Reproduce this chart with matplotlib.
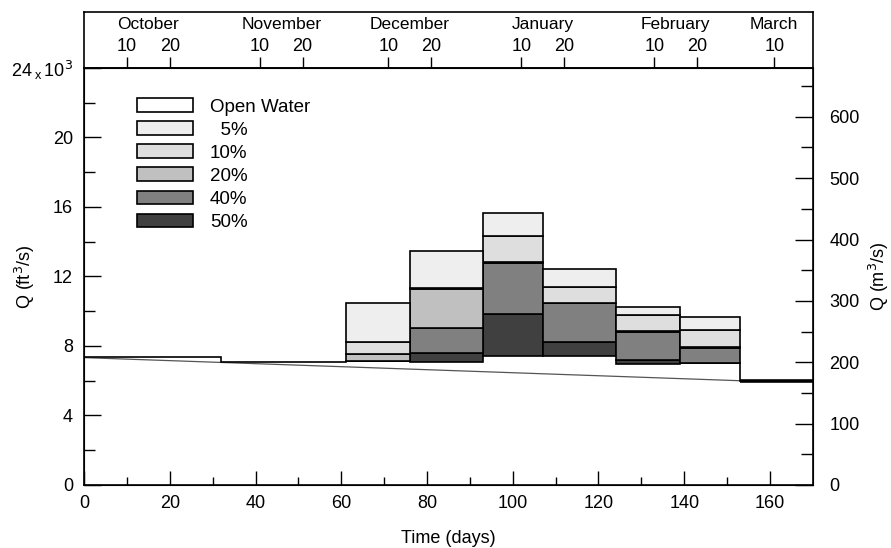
import numpy as np
import matplotlib
matplotlib.use('Agg')
import matplotlib.pyplot as plt
from matplotlib.patches import Patch

plt.rcParams['font.family'] = ['Liberation Sans', 'DejaVu Sans']
plt.rcParams['font.size'] = 13

# open water flow per period (ft3/s)
period_edges = [0, 32, 61, 76, 93, 107, 124, 139, 153, 170]
q_open = [7390, 7080, 7150, 7100, 7430, 7430, 6960, 7000, 6000]

# ice cover periods and flow for each coverage level (tops of stacked bands)
ice_edges = [61, 76, 93, 107, 124, 139, 153]
q50 = [7150, 7580, 9820, 8250, 7190, 7020]
q40 = [7150, 9020, 12800, 10460, 8810, 7880]
q20 = [7540, 11300, 12850, 10500, 8850, 7920]
q10 = [8250, 11350, 14350, 11410, 9770, 8940]
q05 = [10490, 13490, 15670, 12410, 10260, 9690]

# trend line under the open water steps
trend_days = [0, 153]
trend_q = [7330, 6000]

labels = ['Open Water', '  5%', '10%', '20%', '40%', '50%']
colors = ['white', '#eeeeee', '#dedede', '#c0c0c0', '#808080', '#404040']

# month axis on top
month_names = ['October', 'November', 'December', 'January', 'February', 'March']
month_pos = [15, 46, 76, 107, 138, 161]
top_ticks = [10, 20, 41, 51, 71, 81, 102, 112, 133, 143, 161]
top_labels = ['10', '20', '10', '20', '10', '20', '10', '20', '10', '20', '10']

fig = plt.figure(figsize=(8.91, 5.48), dpi=100)
ax = fig.add_axes([0.0943, 0.115, 0.818, 0.761])
head = fig.add_axes([0.0943, 0.876, 0.818, 0.102])

# stacked ice bars
x0 = np.array(ice_edges[:-1])
w = np.diff(ice_edges)
base = np.array(q_open[2:8])
layers = [q50, q40, q20, q10, q05]
layer_cols = colors[5:0:-1]
bottom = base.copy()
for top, c in zip(layers, layer_cols):
    top = np.array(top)
    ax.bar(x0, top - bottom, bottom=bottom, width=w, align='edge',
           color=c, edgecolor='black', linewidth=1.2, zorder=2)
    bottom = top

# open water steps
ax.plot(trend_days, trend_q, color='#555555', lw=0.9, zorder=1)
ax.stairs(q_open[:3], period_edges[:4], baseline=None, color='black', lw=1.2, zorder=1.5)
ax.stairs(q_open[7:], period_edges[7:], baseline=None, color='black', lw=1.2, zorder=1.5)
ax.stairs([q_open[8]], period_edges[8:], baseline=None, color='black', lw=2.6, zorder=3)

ax.set_xlim(0, 170)
ax.set_ylim(0, 24000)
ax.set_xticks(np.arange(0, 170, 20))
ax.set_xticks(np.arange(10, 170, 20), minor=True)
yt = np.arange(0, 24001, 4000)
ax.set_yticks(yt)
ax.set_yticklabels([str(v // 1000) for v in yt[:-1]]
                   + [r'24$\,_{\mathregular{x}}\,$10$^3$'])
ax.set_yticks(np.arange(2000, 24000, 4000), minor=True)
ax.tick_params(axis='x', which='major', direction='in', length=10, width=1, pad=7)
ax.tick_params(axis='x', which='minor', direction='in', length=6, width=1)
ax.tick_params(axis='y', which='major', direction='in', length=12, width=1, pad=8)
ax.tick_params(axis='y', which='minor', direction='in', length=8, width=1)
ax.set_xlabel('Time (days)', labelpad=13)
ax.set_ylabel('Q (ft$^3$/s)')
ax.yaxis.set_label_coords(-0.064, 0.5)
for s in ax.spines.values():
    s.set_linewidth(1.2)

# metric axis
ax2 = ax.twinx()
ax2.set_ylim(0, 24000 * 0.0283168)
ax2.set_yticks(np.arange(0, 601, 100))
ax2.set_yticks(np.arange(50, 680, 100), minor=True)
ax2.tick_params(axis='y', which='major', direction='in', length=13, width=1, pad=12)
ax2.tick_params(axis='y', which='minor', direction='in', length=9, width=1)
ax2.set_ylabel('Q (m$^3$/s)')
ax2.yaxis.set_label_coords(1.074, 0.5)

# top month axis
sec = ax.secondary_xaxis('top')
sec.set_xticks(top_ticks)
sec.set_xticklabels(top_labels)
sec.tick_params(direction='out', length=8, width=1, pad=1)
sec.spines['top'].set_linewidth(1.2)

head.set_xlim(0, 170)
head.set_ylim(0, 1)
head.set_xticks([])
head.set_yticks([])
head.patch.set_alpha(0)
head.spines['bottom'].set_visible(False)
for s in ['left', 'right', 'top']:
    head.spines[s].set_linewidth(1.2)
for m, p in zip(month_names, month_pos):
    head.text(p, 0.78, m, ha='center', va='center', fontsize=12.5)

handles = [Patch(facecolor=c, edgecolor='black', linewidth=1.2) for c in colors]
ax.legend(handles, labels, loc='upper left', bbox_to_anchor=(0.062, 0.945),
          frameon=False, handlelength=3.0, handleheight=0.75, labelspacing=0.3,
          handletextpad=0.9, borderaxespad=0, fontsize=13.5)

fig.savefig('out.png', dpi=100)
